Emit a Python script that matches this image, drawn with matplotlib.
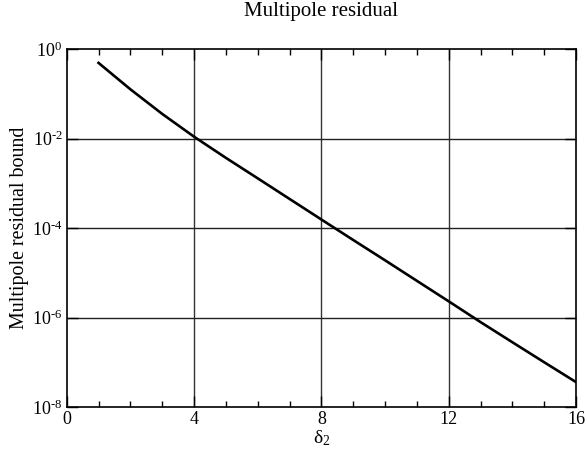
import numpy as np
import matplotlib
matplotlib.use('Agg')
import matplotlib.pyplot as plt
from matplotlib.ticker import FixedLocator, FuncFormatter

plt.rcParams['font.family'] = ['Liberation Serif', 'DejaVu Serif']
plt.rcParams['mathtext.fontset'] = 'custom'
plt.rcParams['mathtext.rm'] = 'Liberation Serif'
plt.rcParams['mathtext.it'] = 'Liberation Serif:italic'

# values (residual bound vs delta_2)
delta2 = [1, 2, 3, 4, 5, 6, 7, 8, 9, 10, 11, 12, 13, 14, 15, 16]
bound = [0.49, 0.126, 0.0355, 1.1e-2, 3.7e-3, 1.29e-3, 4.47e-4, 1.55e-4,
         5.4e-5, 1.9e-5, 6.6e-6, 2.3e-6, 7.9e-7, 2.8e-7, 1.0e-7, 3.6e-8]

x_major = [0, 4, 8, 12, 16]
x_minor = [1, 2, 3, 5, 6, 7, 9, 10, 11, 13, 14, 15]
y_major = [1e-8, 1e-6, 1e-4, 1e-2, 1e0]


def pow_label(v, pos):
    e = int(round(np.log10(v)))
    return r'10$^{\mathrm{%s}}$' % (str(e).replace('-', '\u2010'))


fig = plt.figure(figsize=(5.87, 4.59), dpi=100)
ax = fig.add_axes([0.1136, 0.1133, 0.8677, 0.7799])

for xv in x_major[1:-1]:
    ax.axvline(xv, color='#333333', lw=1.0, zorder=1)
for yv in y_major[1:-1]:
    ax.axhline(yv, color='#222222', lw=1.0, zorder=1)

ax.plot(delta2, bound, color='black', lw=1.9, zorder=3)

ax.set_yscale('log')
ax.set_xlim(0, 16)
ax.set_ylim(1e-8, 1e0)
ax.xaxis.set_major_locator(FixedLocator(x_major))
ax.xaxis.set_minor_locator(FixedLocator(x_minor))
ax.yaxis.set_major_locator(FixedLocator(y_major))
ax.yaxis.set_minor_locator(FixedLocator([]))
ax.yaxis.set_major_formatter(FuncFormatter(pow_label))

ax.tick_params(which='both', direction='in', top=True, right=True,
               labelsize=13, width=1, colors='black')
ax.tick_params(which='major', length=8)
ax.tick_params(which='minor', length=4)
ax.tick_params(axis='x', pad=3)
ax.tick_params(axis='y', pad=3)
for s in ax.spines.values():
    s.set_linewidth(1.2)

ax.set_title('Multipole residual', fontsize=15, pad=24)
ax.set_xlabel('δ$_2$', fontsize=14, labelpad=0)
ax.set_ylabel('Multipole residual bound', fontsize=14.4, labelpad=2)

fig.savefig('out.png', dpi=100)
